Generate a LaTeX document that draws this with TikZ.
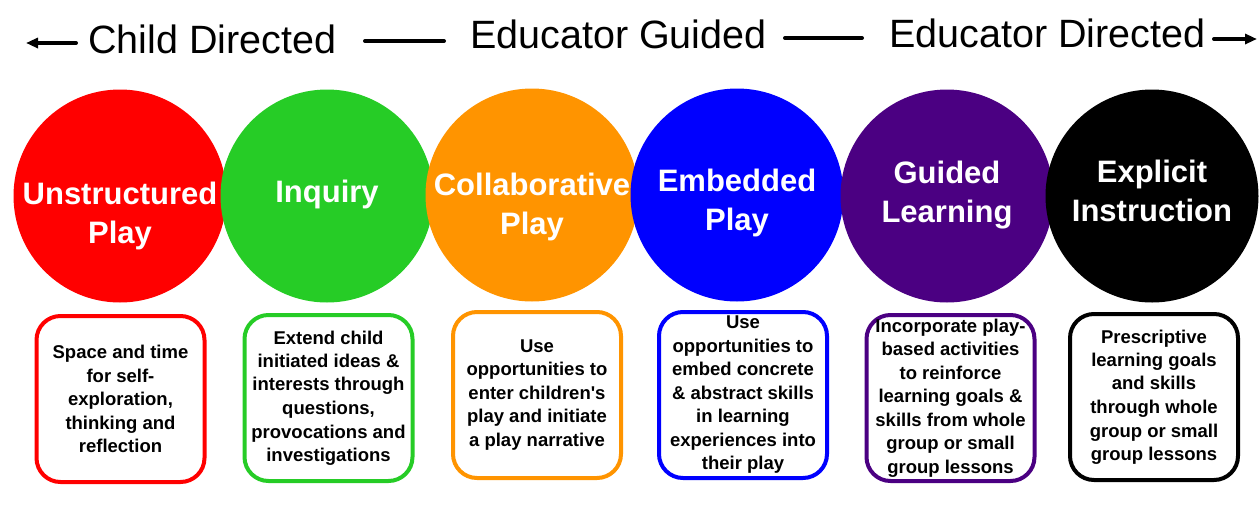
\documentclass[tikz,border=0pt]{standalone}
\usepackage{fontspec}
\setmainfont{Liberation Sans}
\usetikzlibrary{arrows.meta}

\definecolor{playred}{HTML}{FF0000}
\definecolor{playgreen}{HTML}{26CC26}
\definecolor{playorange}{HTML}{FF9400}
\definecolor{playblue}{HTML}{0000FF}
\definecolor{playpurple}{HTML}{4B0082}

\begin{document}
\begin{tikzpicture}[x=1pt, y=-1pt,
    stage/.style={circle, minimum size=213pt, inner sep=0pt},
    stagetext/.style={text=white, align=center, inner sep=0pt,
        font=\fontsize{31}{39}\selectfont\bfseries},
    infobox/.style={draw, line width=4pt, rounded corners=24pt, fill=white,
        minimum width=168pt, minimum height=166pt, inner sep=0pt, align=center,
        font=\fontsize{18.5}{23.5}\selectfont\bfseries},
    heading/.style={anchor=base west, inner sep=0pt,
        font=\fontsize{39.5}{44}\selectfont},
    spanline/.style={line width=4pt, line cap=round}]

    \useasboundingbox (0, 0) rectangle (1259, 512);

    % Scale along the top
    \node[heading] (childdir) at (88, 53) {Child Directed};
    \node[heading] (eduguided) at (470, 48) {Educator Guided};
    \node[heading] (edudir) at (889, 47) {Educator Directed};
    \coordinate (leftstart) at (76, 43);
    \coordinate (leftend) at (26, 43);
    \coordinate (midastart) at (365, 41);
    \coordinate (midaend) at (444, 41);
    \coordinate (midbstart) at (785, 38);
    \coordinate (midbend) at (862, 38);
    \coordinate (rightstart) at (1214, 39);
    \coordinate (rightend) at (1257, 39);
    \draw[spanline, -{Triangle[length=12pt, width=10pt]}] (leftstart) -- (leftend);
    \draw[spanline] (midastart) -- (midaend);
    \draw[spanline] (midbstart) -- (midbend);
    \draw[spanline, -{Triangle[length=12pt, width=10pt]}] (rightstart) -- (rightend);

    % Unstructured play
    \node[stage, fill=playred] (unstructured) at (120, 196) {};
    \node[stagetext] (unstructuredlbl) at (120, 216) {Unstructured\\Play};
    \node[infobox, draw=playred] (unstructuredbox) at (120.5, 399)
        {Space and time\\for self-\\exploration,\\thinking and\\reflection};

    % Inquiry
    \node[stage, fill=playgreen] (inquiry) at (327, 196) {};
    \node[stagetext] (inquirylbl) at (327, 194) {Inquiry};
    \node[infobox, draw=playgreen] (inquirybox) at (328.5, 398)
        {Extend child\\initiated ideas \&\\interests through\\questions,\\provocations and\\investigations};

    % Collaborative play
    \node[stage, fill=playorange] (collab) at (532, 195) {};
    \node[stagetext] (collablbl) at (532, 206.5) {Collaborative\\Play};
    \node[infobox, draw=playorange] (collabbox) at (537, 395)
        {Use\\opportunities to\\enter children\textquotesingle s\\play and initiate\\a play narrative};

    % Embedded play
    \node[stage, fill=playblue] (embedded) at (737, 195) {};
    \node[stagetext] (embeddedlbl) at (737, 203) {Embedded\\Play};
    \node[infobox, draw=playblue] (embeddedbox) at (743, 395)
        {Use\\opportunities to\\embed concrete\\\& abstract skills\\in learning\\experiences into\\their play};

    % Guided learning
    \node[stage, fill=playpurple] (guided) at (947, 196) {};
    \node[stagetext] (guidedlbl) at (947, 195) {Guided\\Learning};
    \node[infobox, draw=playpurple] (guidedbox) at (950.5, 398)
        {Incorporate play-\\based activities\\to reinforce\\learning goals \&\\skills from whole\\group or small\\group lessons};

    % Explicit instruction
    \node[stage, fill=black] (explicit) at (1152, 196) {};
    \node[stagetext] (explicitlbl) at (1152, 191) {Explicit\\Instruction};
    \node[infobox, draw=black] (explicitbox) at (1154, 397)
        {Prescriptive\\learning goals\\and skills\\through whole\\group or small\\group lessons};

\end{tikzpicture}
\end{document}
